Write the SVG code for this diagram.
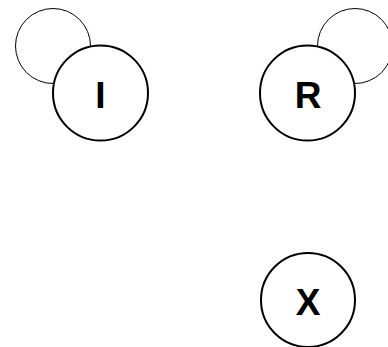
<svg xmlns="http://www.w3.org/2000/svg" width="388" height="347" viewBox="0 0 388 347">
<style>
.node circle{fill:#fff;stroke:#000;stroke-width:2}
.node text{font-family:"Liberation Sans",Arial,sans-serif;font-weight:bold;font-size:37px;text-anchor:middle;fill:#000}
.edge{fill:none;stroke:#000;stroke-width:1}
</style>
<rect width="388" height="347" fill="#fff"/>
<g id="connectors">
<circle class="edge" cx="53" cy="46" r="37.5"/>
<circle class="edge" cx="355" cy="46" r="37.5"/>
</g>
<g id="node-I" class="node">
<circle cx="100.5" cy="93" r="47.5"/>
<text x="100.5" y="108">I</text>
</g>
<g id="node-R" class="node">
<circle cx="307.5" cy="93" r="47.5"/>
<text x="308" y="108">R</text>
</g>
<g id="node-X" class="node">
<circle cx="308" cy="300" r="47"/>
<text x="308" y="315">X</text>
</g>
</svg>
